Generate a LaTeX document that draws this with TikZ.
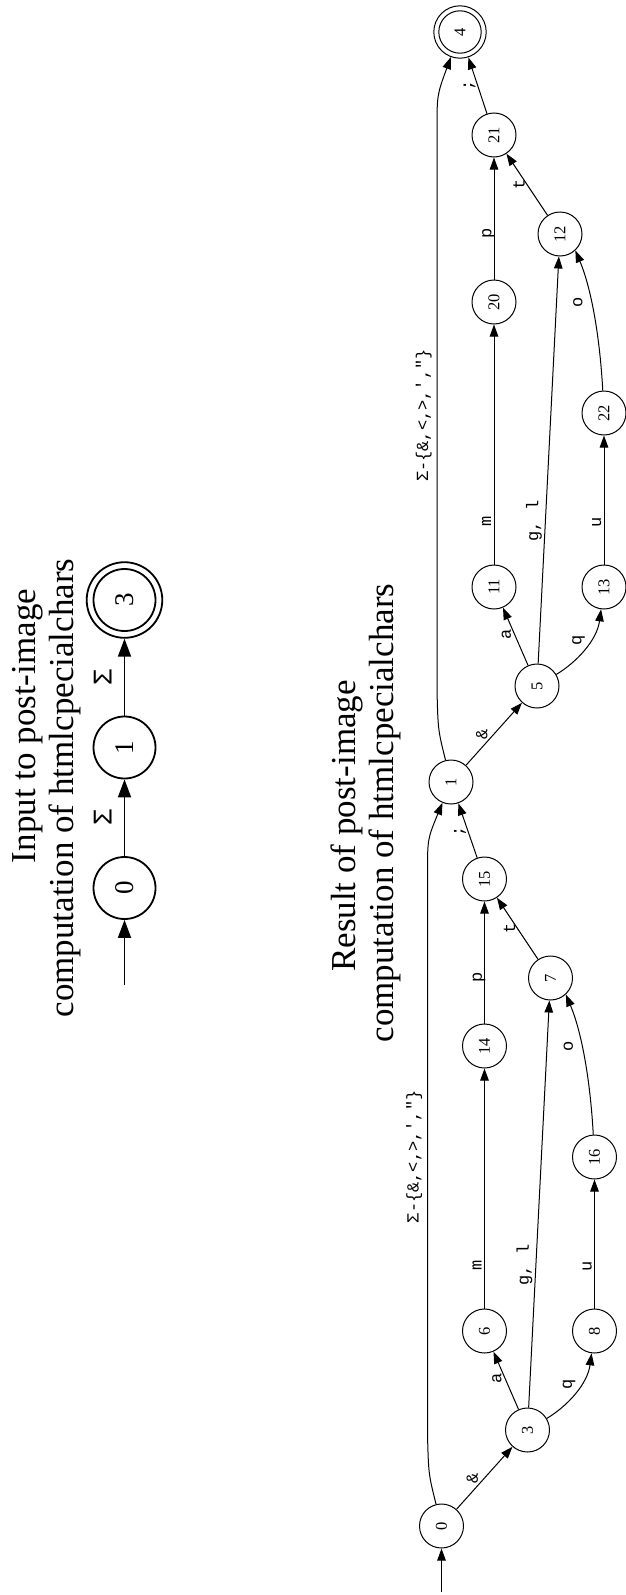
\documentclass[tikz,border=0pt]{standalone}
\usepackage{fontspec}
\setmainfont{Liberation Serif}
\setmonofont{Liberation Mono}
\usepackage{graphicx}
\usetikzlibrary{arrows.meta}

% state numbers are printed sideways
\newcommand\rt[1]{\rotatebox{90}{#1}}

\tikzset{
  state/.style={circle, draw, line width=1pt, minimum size=44pt, inner sep=0pt,
    font=\fontsize{16.5}{20}\selectfont},
  bigstate/.style={circle, draw, line width=1.8pt, minimum size=62pt, inner sep=0pt,
    font=\fontsize{27}{32}\selectfont},
  trans/.style={line width=1pt, -{Triangle[length=12pt, width=8.5pt]}},
  bigtrans/.style={line width=1.8pt, -{Triangle[length=18pt, width=13pt]}},
  elab/.style={xshift=-#1, anchor=base, rotate=90, inner sep=0pt,
    font=\ttfamily\fontsize{17}{20}\selectfont},
  elab/.default=3pt,
  biglab/.style={xshift=-13pt, anchor=base, rotate=90, inner sep=0pt,
    font=\ttfamily\fontsize{27}{32}\selectfont},
  title/.style={rotate=90, inner sep=0pt, font=\fontsize{35}{40}\selectfont},
}

\begin{document}
\begin{tikzpicture}[x=1pt, y=-1pt]
\useasboundingbox (0,0) rectangle (626,1595);

% input automaton
\node[title] (in1) at (28,726) {Input to post-image};
\node[title] (in2) at (65,788) {computation of htmlcpecialchars};
\node[bigstate] (t0) at (124.5,888) {\rt{0}};
\node[bigstate] (t1) at (124.5,747.5) {\rt{1}};
\node[bigstate, minimum size=75.6pt] (t3) at (124.5,600) {\rt{3}};
\draw[line width=1.8pt] (t3.center) circle (31pt);
\coordinate (tstart) at (124.5,985);
\draw[bigtrans] (tstart) -- (t0);
\draw[bigtrans] (t0) -- node[biglab] {Σ} (t1);
\draw[bigtrans] (t1) -- node[biglab] {Σ} (t3);

% result automaton
\node[title] (out1) at (347,826) {Result of post-image};
\node[title] (out2) at (385,813) {computation of htmlcpecialchars};

\node[state] (n0) at (441.5,1526) {\rt{0}};
\node[state] (n3) at (527.5,1430) {\rt{3}};
\node[state] (n6) at (484.5,1331) {\rt{6}};
\node[state] (n8) at (594.5,1331) {\rt{8}};
\node[state] (n14) at (484.5,1046) {\rt{14}};
\node[state] (n16) at (594.5,1157) {\rt{16}};
\node[state] (n7) at (550.5,978) {\rt{7}};
\node[state] (n15) at (484.5,879) {\rt{15}};
\node[state] (n1) at (451,782) {\rt{1}};
\node[state] (n5) at (537,686) {\rt{5}};
\node[state] (n11) at (494,587) {\rt{11}};
\node[state] (n13) at (604,587) {\rt{13}};
\node[state] (n20) at (494,302) {\rt{20}};
\node[state] (n22) at (604,413) {\rt{22}};
\node[state] (n12) at (560,234) {\rt{12}};
\node[state] (n21) at (494,135) {\rt{21}};
\node[state, minimum size=52.4pt] (n4) at (460,32) {\rt{4}};
\draw[line width=1pt] (n4.center) circle (21.2pt);

% first half: 0 -> 1
\coordinate (nstart) at (441.5,1592);
\draw[trans] (nstart) -- (n0);
\draw[trans] (n0) -- node[elab=6.6pt, pos=.5] {\&} (n3);
\draw[trans] (n3) -- node[elab=3.9pt, pos=.53] {a} (n6);
\draw[trans] (n3) .. controls (567.5,1406) and (587.5,1384) .. node[elab=9pt, pos=.62] {q} (n8);
\draw[trans] (n3) -- node[elab=7pt, pos=.35] {g, l} (n7);
\draw[trans] (n6) -- node[elab=2.8pt, pos=.18] {m} (n14);
\draw[trans] (n8) -- node[elab=2.8pt, pos=.33] {u} (n16);
\draw[trans] (n16) .. controls (590.5,1084) and (582.5,1034) .. node[elab=9pt, pos=.6] {o} (n7.-47);
\draw[trans] (n14) -- node[elab=2.7pt, pos=.38] {p} (n15);
\draw[trans] (n7) -- node[elab=2.4pt] {t} (n15);
\draw[trans] (n15) -- node[elab=5pt, pos=.48] {;} (n1);
\draw[trans] (n0) .. controls (428.5,1474) .. (427.5,1434)
  -- node[elab=9pt, pos=.495] {Σ-\{\&,<,>,',"\}} (427.5,874)
  .. controls (427.5,839) .. (n1);

% second half: 1 -> 4
\draw[trans] (n1) -- node[elab=6.6pt, pos=.5] {\&} (n5);
\draw[trans] (n5) -- node[elab=3.9pt, pos=.53] {a} (n11);
\draw[trans] (n5) .. controls (577,662) and (597,640) .. node[elab=9pt, pos=.62] {q} (n13);
\draw[trans] (n5) -- node[elab=7pt, pos=.35] {g, l} (n12);
\draw[trans] (n11) -- node[elab=2.8pt, pos=.18] {m} (n20);
\draw[trans] (n13) -- node[elab=2.8pt, pos=.33] {u} (n22);
\draw[trans] (n22) .. controls (600,340) and (592,290) .. node[elab=9pt, pos=.6] {o} (n12.-47);
\draw[trans] (n20) -- node[elab=2.7pt, pos=.38] {p} (n21);
\draw[trans] (n12) -- node[elab=2.4pt] {t} (n21);
\draw[trans] (n21) -- node[elab=5pt, pos=.5] {;} (n4);
\draw[trans] (n1) .. controls (438,730) .. (437,690)
  -- node[elab=9pt, pos=.49] {Σ-\{\&,<,>,',"\}} (437,130)
  .. controls (437,95) .. (n4);
\end{tikzpicture}
\end{document}
